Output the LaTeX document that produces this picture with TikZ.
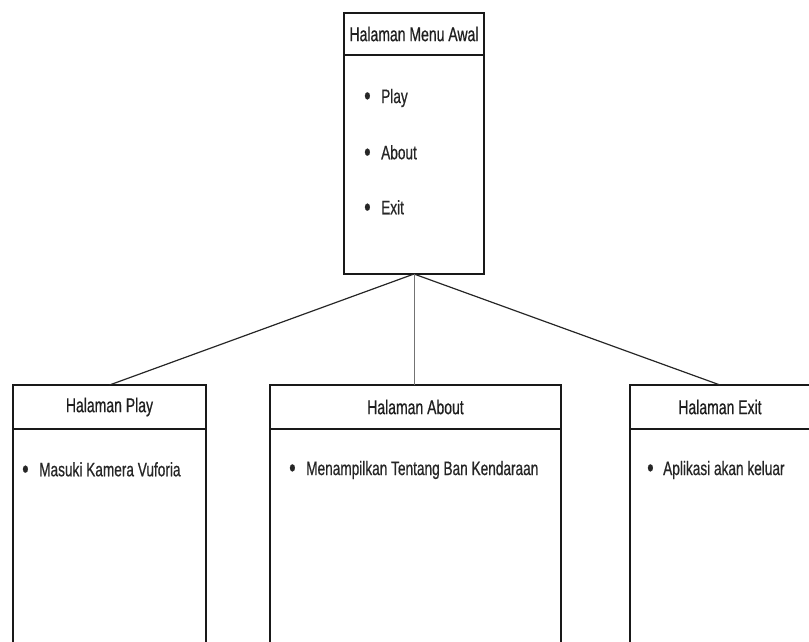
\documentclass[tikz,border=0pt]{standalone}
\usepackage{fontspec}
\setmainfont{Liberation Sans}[FakeStretch=0.70, FakeBold=0.6]
\newcommand{\listdot}{\raisebox{-1.6pt}{\scalebox{1.35}{\textbullet}}}
\begin{document}
\begin{tikzpicture}[x=1pt,y=-1pt,
  box/.style={draw=black!90, line width=1.3pt, inner sep=0pt, outer sep=0pt},
  head/.style={box, font=\fontsize{20}{22}\selectfont, text=black!88},
  body/.style={box, anchor=north},
  item/.style={anchor=west, inner sep=0pt, font=\fontsize{19.5}{22}\selectfont, text=black!85},
  link/.style={draw=black!85, line width=1.2pt},
  midlink/.style={draw=black!55, line width=1pt}]
\useasboundingbox (0,0) rectangle (809,641);
\clip (0,0) rectangle (809,641);

% main menu page
\node[head, minimum width=140pt, minimum height=42pt] (menu) at (414,34) {Halaman Menu Awal};
\node[body, minimum width=140pt, minimum height=219pt] (menubody) at (menu.south) {};
\node[item] (play) at (364,98) {\makebox[17pt][l]{\listdot}Play};
\node[item] (about) at (364,153) {\makebox[17pt][l]{\listdot}About};
\node[item] (exit) at (364,208) {\makebox[17pt][l]{\listdot}Exit};

% child pages
\node[head, minimum width=193pt, minimum height=44pt] (playpage) at (109.5,407) {Halaman Play};
\node[body, minimum width=193pt, minimum height=240pt] (playbody) at (playpage.south) {};
\node[item] (playitem) at (22,470) {\makebox[17pt][l]{\listdot}Masuki Kamera Vuforia};

\node[head, minimum width=291pt, minimum height=44pt] (aboutpage) at (415.5,407) {Halaman About};
\node[body, minimum width=291pt, minimum height=240pt] (aboutbody) at (aboutpage.south) {};
\node[item] (aboutitem) at (289,470) {\makebox[17pt][l]{\listdot}Menampilkan Tentang Ban Kendaraan};

\node[head, minimum width=180pt, minimum height=44pt] (exitpage) at (720,407) {Halaman Exit};
\node[body, minimum width=180pt, minimum height=240pt] (exitbody) at (exitpage.south) {};
\node[item] (exititem) at (647,470) {\makebox[16pt][l]{\listdot}Aplikasi akan keluar};

% connectors
\draw[link] (menubody.south) -- (playpage.north);
\draw[link] (menubody.south) -- (exitpage.north);
\draw[midlink] (menubody.south) -- (menubody.south |- aboutpage.north);
\end{tikzpicture}
\end{document}
